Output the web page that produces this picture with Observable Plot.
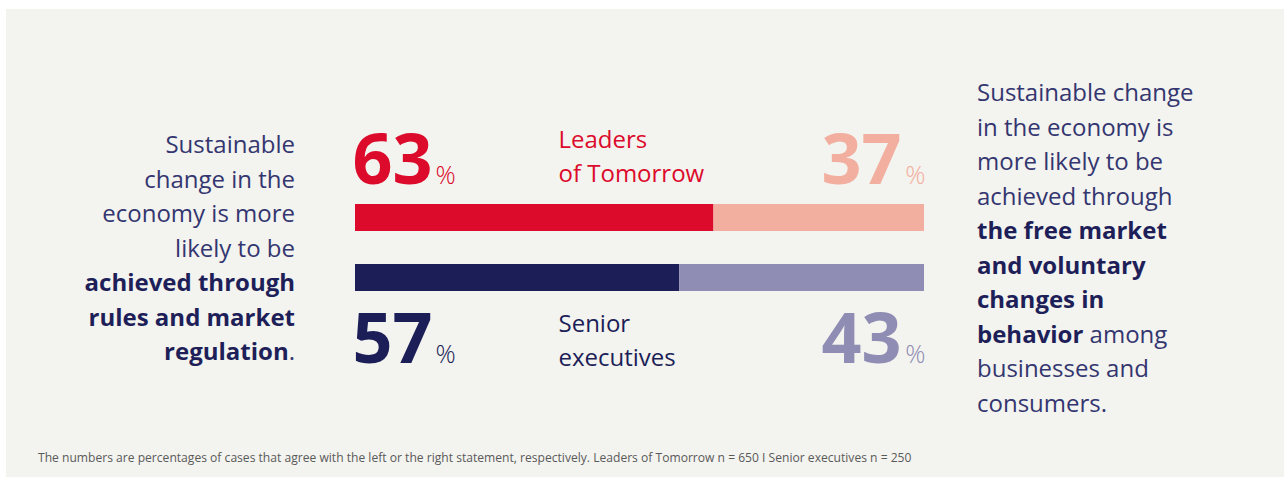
<!DOCTYPE html>
<html>
<head>
<meta charset="utf-8">
<script src="https://cdn.jsdelivr.net/npm/d3@7"></script>
<script src="https://cdn.jsdelivr.net/npm/@observablehq/plot@0.6"></script>
<style>
  html, body { margin: 0; padding: 0; background: #ffffff; }
  body { width: 1284px; height: 477px; position: relative; overflow: hidden; font-family: "Open Sans", sans-serif; }
  #panel { position: absolute; left: 6px; top: 9px; width: 1278px; height: 468px; background: #f3f3ef; }
  .para { position: absolute; font-size: 24px; line-height: 34.5px; color: #34366f; font-weight: 400; }
  .para b { font-weight: 700; color: #1e1f59; }
  #left { left: 30px; width: 265px; top: 127px; text-align: right; }
  #right { left: 977px; width: 300px; top: 75px; text-align: left; }
  #chart { position: absolute; left: 340px; top: 110px; }
  #caption { position: absolute; left: 38px; top: 449px; font-size: 12.1px; color: #5a5a5a; white-space: nowrap; }
</style>
</head>
<body>
<div id="panel"></div>
<div id="left" class="para">Sustainable<br>change in the<br>economy is more<br>likely to be<br><b>achieved through<br>rules and market<br>regulation</b>.</div>
<div id="chart"></div>
<div id="right" class="para">Sustainable change<br>in the economy is<br>more likely to be<br>achieved through<br><b>the free market<br>and voluntary<br>changes in<br>behavior</b> among<br>businesses and<br>consumers.</div>
<div id="caption">The numbers are percentages of cases that agree with the left or the right statement, respectively. Leaders of Tomorrow n = 650 I Senior executives n = 250</div>
<script>
const groups = ["Leaders of Tomorrow", "Senior executives"];
const groupLabels = ["Leaders\nof Tomorrow", "Senior\nexecutives"];
const rulesShare = [63, 57];
const marketShare = [37, 43];
const strongColors = ["#dc0a2b", "#1c1e57"];
const lightColors = ["#f2afa0", "#8f8db3"];

const rows = groups.map((g, i) => ({
  group: g, label: groupLabels[i], left: rulesShare[i], right: marketShare[i],
  strong: strongColors[i], light: lightColors[i]
}));
const leadersRow = rows.filter(d => d.group === groups[0]);
const seniorRow = rows.filter(d => d.group === groups[1]);

const numFont = {fontFamily: "Open Sans", fontWeight: 700, fontSize: 70, lineAnchor: "bottom"};
const pctFont = {fontFamily: "Open Sans", fontWeight: 300, fontSize: 25, lineAnchor: "bottom"};
const lblFont = {fontFamily: "Open Sans", fontWeight: 400, fontSize: 24, lineAnchor: "bottom", lineHeight: 1.43, textAnchor: "start"};

function numberMarks(data, dy, labelDy) {
  return [
    Plot.text(data, {x: () => 0, y: "group", text: d => String(d.left), fill: d => d.strong, textAnchor: "start", dy, dx: -3, ...numFont}),
    Plot.text(data, {x: () => 0, y: "group", text: () => "%", fill: d => d.strong, textAnchor: "start", dy, dx: 80, ...pctFont}),
    Plot.text(data, {x: d => d.left + d.right, y: "group", text: d => String(d.right), fill: d => d.light, textAnchor: "end", dy, dx: -23, ...numFont}),
    Plot.text(data, {x: d => d.left + d.right, y: "group", text: () => "%", fill: d => d.light, textAnchor: "end", dy, dx: 1, ...pctFont}),
    Plot.text(data, {x: () => 0, y: "group", text: "label", fill: d => d.strong, dy: labelDy, dx: 203, ...lblFont})
  ];
}

const chart = Plot.plot({
  width: 600,
  height: 270,
  marginLeft: 15,
  marginRight: 16,
  marginTop: 94,
  marginBottom: 89,
  style: {background: "transparent", overflow: "visible"},
  x: {domain: [0, 100], axis: null},
  y: {domain: groups, axis: null, paddingInner: 0.55, paddingOuter: 0},
  marks: [
    Plot.barX(rows, {y: "group", x1: () => 0, x2: "left", fill: d => d.strong}),
    Plot.barX(rows, {y: "group", x1: "left", x2: d => d.left + d.right, fill: d => d.light}),
    ...numberMarks(leadersRow, -34.5, -36),
    ...numberMarks(seniorRow, 84.5, 88)
  ]
});
document.getElementById("chart").appendChild(chart);
</script>
</body>
</html>
